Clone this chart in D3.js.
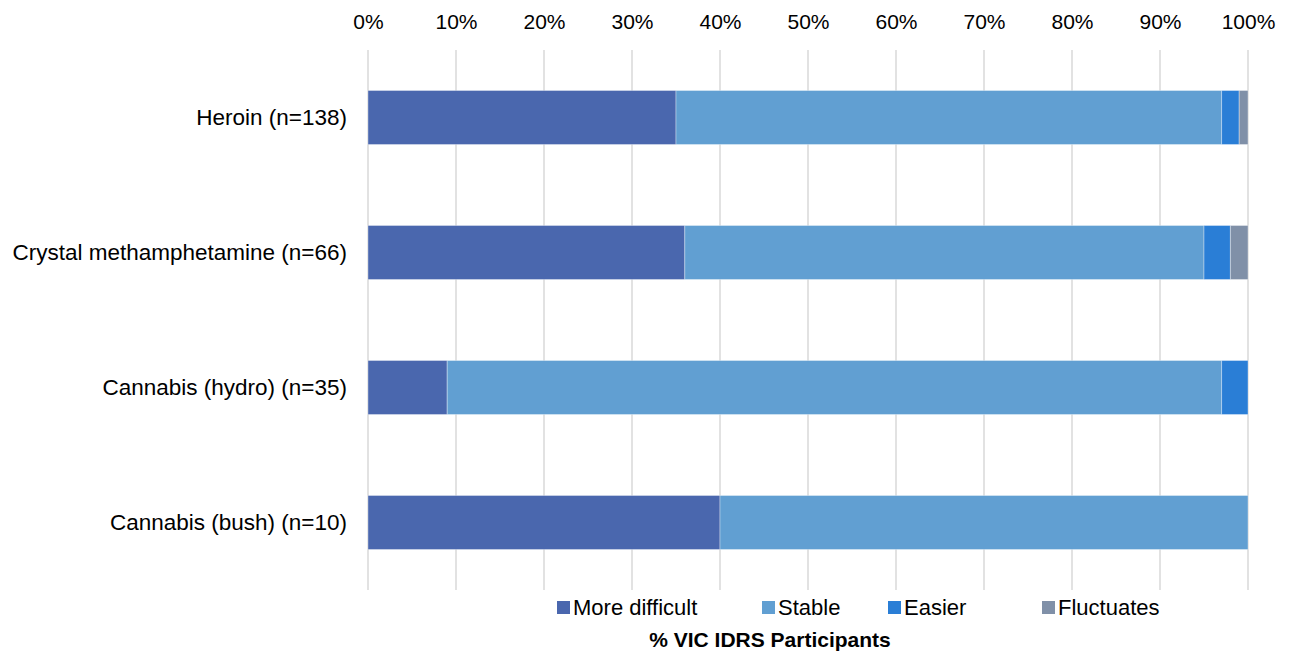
<!DOCTYPE html>
<html><head><meta charset="utf-8">
<script src="https://cdn.jsdelivr.net/npm/d3@7"></script>
<style>body{margin:0;background:#fff;} text{font-family:"Liberation Sans",Arial,sans-serif;}</style>
</head><body>
<svg id="chart" width="1292" height="654"></svg>
<script>
const categories = ["Heroin (n=138)", "Crystal methamphetamine (n=66)", "Cannabis (hydro) (n=35)", "Cannabis (bush) (n=10)"];
const seriesNames = ["More difficult", "Stable", "Easier", "Fluctuates"];
const moreDifficult = [35, 36, 9, 40];
const stable = [62, 59, 88, 60];
const easier = [2, 3, 3, 0];
const fluctuates = [1, 2, 0, 0];
const colors = ["#4a67ae", "#619fd2", "#2a7ed6", "#8090a8"];
const tickValues = [0,10,20,30,40,50,60,70,80,90,100];

(function(){
const svg = d3.select("#chart");
const pLeft = 368, pRight = 1248, pTop = 50, pBottom = 590;
const x = d3.scaleLinear().domain([0,100]).range([pLeft, pRight]);
const y = d3.scaleBand().domain(categories).range([pTop, pBottom]).paddingInner(0.6).paddingOuter(0.3);

// gridlines
svg.append("g").selectAll("line").data(tickValues).join("line")
  .attr("x1", d => x(d)).attr("x2", d => x(d))
  .attr("y1", pTop).attr("y2", pBottom)
  .attr("stroke", "#d9d9d9").attr("stroke-width", 1.5);

// top axis labels
const ax = svg.append("g").attr("transform", `translate(0,${pTop})`)
  .call(d3.axisTop(x).tickValues(tickValues).tickFormat(d => d + "%").tickSize(0).tickPadding(21));
ax.select(".domain").remove();
ax.selectAll("text").attr("font-size", 21).attr("fill", "#000").attr("font-family", "Liberation Sans, Arial, sans-serif");

// category labels
const ay = svg.append("g").attr("transform", `translate(${pLeft},0)`)
  .call(d3.axisLeft(y).tickSize(0).tickPadding(21));
ay.select(".domain").remove();
ay.selectAll("text").attr("font-size", 22.5).attr("fill", "#000").attr("font-family", "Liberation Sans, Arial, sans-serif");

// stacked data
const table = categories.map((c, i) => ({cat: c, "More difficult": moreDifficult[i], "Stable": stable[i], "Easier": easier[i], "Fluctuates": fluctuates[i]}));
const stacked = d3.stack().keys(seriesNames)(table);
svg.append("g").selectAll("g").data(stacked).join("g")
  .attr("fill", (d, i) => colors[i])
  .selectAll("rect").data(d => d.filter(v => v[1] - v[0] > 0)).join("rect")
  .attr("x", d => x(d[0])).attr("width", d => x(d[1]) - x(d[0]))
  .attr("y", d => y(d.data.cat)).attr("height", y.bandwidth())
  .attr("stroke", "#ffffff").attr("stroke-opacity", 0.35).attr("stroke-width", 1);

// legend
const legendX = [557, 762, 888, 1042];
const lg = svg.append("g");
seriesNames.forEach((s, i) => {
  lg.append("rect").attr("x", legendX[i]).attr("y", 601).attr("width", 13).attr("height", 13).attr("fill", colors[i]);
  lg.append("text").attr("x", legendX[i] + 16).attr("y", 615).attr("font-size", 22).attr("fill", "#000").text(s);
});

// axis title
svg.append("text").attr("x", 770).attr("y", 647).attr("text-anchor", "middle")
  .attr("font-size", 21).attr("font-weight", "bold").attr("fill", "#000").text("% VIC IDRS Participants");
})();
</script>
</body></html>
